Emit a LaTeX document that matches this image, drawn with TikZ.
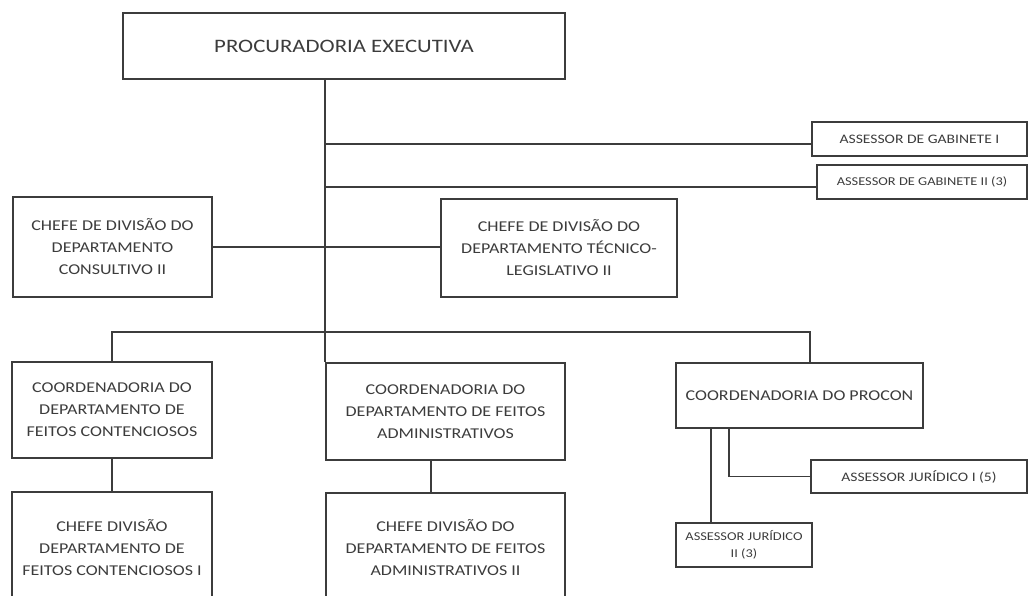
\documentclass[tikz,border=0pt]{standalone}
\usepackage{fontspec}
\newfontfamily\orgfont[FakeStretch=1.2]{Carlito}
\definecolor{inkgray}{HTML}{3C3C3C}

\begin{document}
\begin{tikzpicture}[x=1pt, y=-1pt, line width=1.6pt, draw=inkgray,
    orgbox/.style={draw, inner sep=0pt, align=center, text=inkgray,
      font=\orgfont\fontsize{15}{22}\selectfont}]
    % \draw[help lines] (0, 0) grid (1029, 596);
    \useasboundingbox (0, 0) rectangle (1029, 596);
    \clip (0, 0) rectangle (1029, 596);

    \node[orgbox, minimum width=442, minimum height=66,
      font=\orgfont\fontsize{19}{24}\selectfont] (proc) at (344, 46) {PROCURADORIA EXECUTIVA};
    \node[orgbox, minimum width=215, minimum height=34,
      font=\orgfont\fontsize{13}{16}\selectfont] (gab1) at (919.5, 139) {ASSESSOR DE GABINETE I};
    \node[orgbox, minimum width=210, minimum height=34,
      font=\orgfont\fontsize{12}{16}\selectfont] (gab2) at (922, 182) {ASSESSOR DE GABINETE II (3)};

    \node[orgbox, minimum width=199, minimum height=100] (cons) at (112.5, 247)
      {CHEFE DE DIVISÃO DO\\DEPARTAMENTO\\CONSULTIVO II};
    \node[orgbox, minimum width=236, minimum height=98] (tec) at (559, 248)
      {CHEFE DE DIVISÃO DO\\DEPARTAMENTO TÉCNICO-\\LEGISLATIVO II};

    \node[orgbox, minimum width=200, minimum height=96] (cont) at (112, 410)
      {COORDENADORIA DO\\DEPARTAMENTO DE\\FEITOS CONTENCIOSOS};
    \node[orgbox, minimum width=239, minimum height=97] (adm) at (445.5, 411.5)
      {COORDENADORIA DO\\DEPARTAMENTO DE FEITOS\\ADMINISTRATIVOS};
    \node[orgbox, minimum width=247, minimum height=65] (procon) at (799.5, 395.5)
      {COORDENADORIA DO PROCON};

    \node[orgbox, minimum width=216, minimum height=33,
      font=\orgfont\fontsize{13}{16}\selectfont] (jur1) at (919, 476.5) {ASSESSOR JURÍDICO I (5)};
    \node[orgbox, minimum width=136, minimum height=44,
      font=\orgfont\fontsize{12}{17}\selectfont] (jur2) at (744, 545) {ASSESSOR JURÍDICO\\II (3)};

    \node[orgbox, minimum width=200, minimum height=112] (chcont) at (112, 548)
      {CHEFE DIVISÃO\\DEPARTAMENTO DE\\FEITOS CONTENCIOSOS I};
    \node[orgbox, minimum width=239, minimum height=110] (chadm) at (445.5, 548)
      {CHEFE DIVISÃO DO\\DEPARTAMENTO DE FEITOS\\ADMINISTRATIVOS II};

    % trunk and branches
    \coordinate (bus) at (325, 332);
    \draw (proc.south -| adm.north west) -- (adm.north west);
    \draw ([yshift=-5]gab1.west -| bus) -- ([yshift=-5]gab1.west);
    \draw ([yshift=-5]gab2.west -| bus) -- ([yshift=-5]gab2.west);
    \draw (cons.east) -- (cons.east -| tec.west);
    \draw (cont.north) |- (bus) -| ([xshift=10.5]procon.north);

    \draw (cont.south) -- (chcont.north);
    \draw ([xshift=-14.5]adm.south) -- ([xshift=-14.5]chadm.north);
    \draw ([xshift=-70.5]procon.south) |- (jur1.west);
    \draw ([xshift=-88.5]procon.south) -- ([xshift=-33]jur2.north);
  \end{tikzpicture}
\end{document}
